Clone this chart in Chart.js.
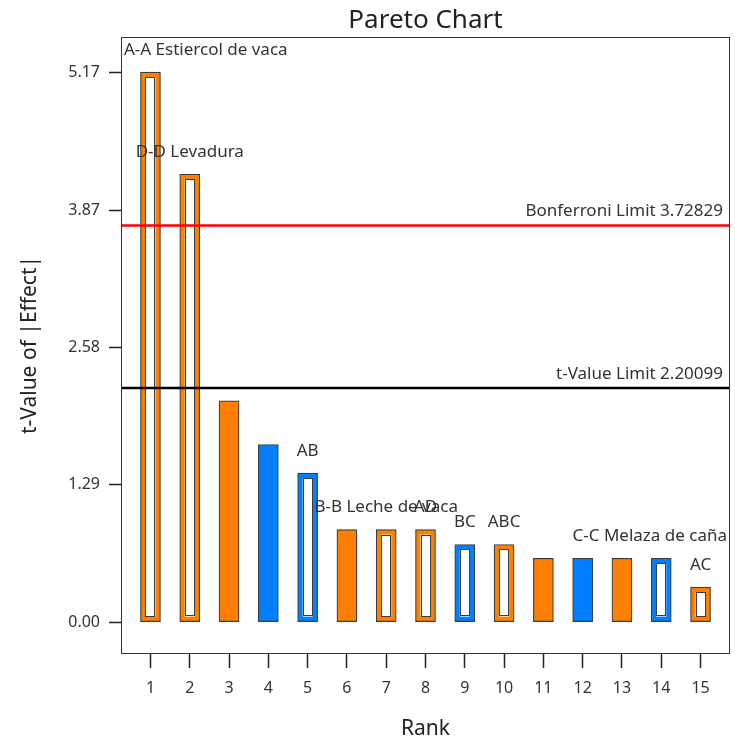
<!doctype html>
<html>
<head>
	<title>Pareto Chart</title>
	<script src="https://cdn.jsdelivr.net/npm/chart.js@4.4.1/dist/chart.umd.min.js"></script>
	<style>
		html, body { margin: 0; padding: 0; background: #fff; }
		#wrap { width: 735px; height: 742px; }
	</style>
</head>
<body>
	<div id="wrap"><canvas id="canvas"></canvas></div>
	<script>
		// effects ranked by |t|
		var ranks = [1, 2, 3, 4, 5, 6, 7, 8, 9, 10, 11, 12, 13, 14, 15];
		var tValues = [5.17, 4.21, 2.08, 1.67, 1.40, 0.87, 0.87, 0.87, 0.73, 0.73, 0.60, 0.60, 0.60, 0.60, 0.33];
		// 'o' = positive effect, 'b' = negative effect
		var signs = ['o', 'o', 'o', 'b', 'b', 'o', 'o', 'o', 'b', 'o', 'o', 'b', 'o', 'b', 'o'];
		// hollow bars are terms in the model
		var hollow = [1, 1, 0, 0, 1, 0, 1, 1, 1, 1, 0, 0, 0, 1, 1];
		var termLabels = [
			{ rank: 1, text: 'A-A Estiercol de vaca' },
			{ rank: 2, text: 'D-D Levadura' },
			{ rank: 5, text: 'AB' },
			{ rank: 7, text: 'B-B Leche de vaca' },
			{ rank: 8, text: 'AD' },
			{ rank: 9, text: 'BC' },
			{ rank: 10, text: 'ABC' },
			{ rank: 14, text: 'C-C Melaza de caña' },
			{ rank: 15, text: 'AC' }
		];
		var yTickValues = [0, 1.29, 2.58, 3.87, 5.17];
		var bonferroni = 3.72829;
		var tLimit = 2.20099;

		var ORANGE = '#ff8000', BLUE = '#0080ff', EDGE = '#3c3c3c';
		var FONT = "'Noto Sans', 'Open Sans', sans-serif";

		var points = ranks.map(function (r, i) { return { x: r, y: tValues[i] }; });
		var colors = signs.map(function (s) { return s === 'b' ? BLUE : ORANGE; });

		var paretoPlugin = {
			id: 'pareto',
			afterDatasetsDraw: function (chart) {
				var ctx = chart.ctx, area = chart.chartArea;
				var meta = chart.getDatasetMeta(0);
				var ys = chart.scales.y;
				ctx.save();
				// white core of hollow bars
				meta.data.forEach(function (bar, i) {
					if (!hollow[i]) return;
					var w = bar.width, inset = 5;
					var x0 = bar.x - w / 2 + inset, x1 = bar.x + w / 2 - inset;
					var y0 = bar.y + inset, y1 = bar.base - inset;
					ctx.fillStyle = '#ffffff';
					ctx.fillRect(x0, y0, x1 - x0, y1 - y0);
					ctx.strokeStyle = EDGE;
					ctx.lineWidth = 1;
					ctx.strokeRect(Math.round(x0) + 0.5, Math.round(y0) + 0.5, Math.round(x1 - x0) - 1, Math.round(y1 - y0) - 1);
				});
				// limit lines
				[[bonferroni, '#ff0000', 'Bonferroni Limit ' + bonferroni],
				 [tLimit, '#000000', 't-Value Limit ' + tLimit]].forEach(function (l) {
					var y = ys.getPixelForValue(l[0]);
					ctx.strokeStyle = l[1];
					ctx.lineWidth = 2.5;
					ctx.beginPath();
					ctx.moveTo(area.left, y);
					ctx.lineTo(area.right, y);
					ctx.stroke();
					ctx.fillStyle = '#333';
					ctx.font = '17px ' + FONT;
					ctx.textAlign = 'right';
					ctx.textBaseline = 'middle';
					ctx.fillText(l[2], area.right - 7, y - 14);
				});
				// term labels above the bars
				ctx.font = '17px ' + FONT;
				ctx.fillStyle = '#333';
				ctx.textBaseline = 'middle';
				ctx.textAlign = 'left';
				termLabels.forEach(function (t) {
					var bar = meta.data[t.rank - 1];
					var w = ctx.measureText(t.text).width;
					var left = bar.x - w / 2;
					left = Math.max(area.left + 3, Math.min(area.right - 3 - w, left));
					ctx.fillText(t.text, left, bar.y - 22);
				});
				// plot frame
				ctx.strokeStyle = '#333';
				ctx.lineWidth = 1;
				ctx.strokeRect(area.left + 0.5, area.top + 0.5, area.right - area.left - 1, area.bottom - area.top);
				// titles
				ctx.fillStyle = '#222';
				ctx.textAlign = 'center';
				ctx.font = '26px ' + FONT;
				ctx.fillText('Pareto Chart', (area.left + area.right) / 2, 21);
				ctx.font = '21px ' + FONT;
				ctx.fillText('Rank', (area.left + area.right) / 2, 729);
				ctx.translate(30, (area.top + area.bottom) / 2);
				ctx.rotate(-Math.PI / 2);
				ctx.fillText('t-Value of |Effect|', 0, 0);
				ctx.restore();
			}
		};

		var config = {
			type: 'bar',
			data: {
				datasets: [{
					data: points,
					backgroundColor: colors,
					borderColor: EDGE,
					borderWidth: 1.2,
					borderSkipped: false,
					barThickness: 20
				}]
			},
			options: {
				responsive: true,
				maintainAspectRatio: false,
				animation: false,
				layout: { padding: { top: 37, right: 5, left: 0, bottom: 0 } },
				plugins: {
					legend: { display: false },
					tooltip: { enabled: false }
				},
				scales: {
					x: {
						type: 'linear',
						offset: false,
						min: 0.25,
						max: 15.75,
						afterBuildTicks: function (scale) {
							scale.ticks = ranks.map(function (r) { return { value: r }; });
						},
						afterFit: function (scale) { scale.height = 89; },
						border: { display: false },
						grid: { offset: false, drawOnChartArea: false, tickLength: 15, color: '#222', tickWidth: 1.5 },
						ticks: { color: '#333', font: { family: FONT, size: 16 }, padding: 11, maxRotation: 0, autoSkip: false }
					},
					y: {
						min: -0.29,
						max: 5.5,
						afterBuildTicks: function (scale) {
							scale.ticks = yTickValues.map(function (v) { return { value: v }; });
						},
						afterFit: function (scale) { scale.width = 121; },
						border: { display: false },
						grid: { drawOnChartArea: false, tickLength: 12, color: '#222', tickWidth: 1.5 },
						ticks: {
							color: '#333',
							font: { family: FONT, size: 16 },
							padding: 9,
							callback: function (v) { return Number(v).toFixed(2); }
						}
					}
				}
			},
			plugins: [paretoPlugin]
		};

		window.onload = function () {
			var ctx = document.getElementById('canvas').getContext('2d');
			window.myBar = new Chart(ctx, config);
		};
	</script>
</body>
</html>
